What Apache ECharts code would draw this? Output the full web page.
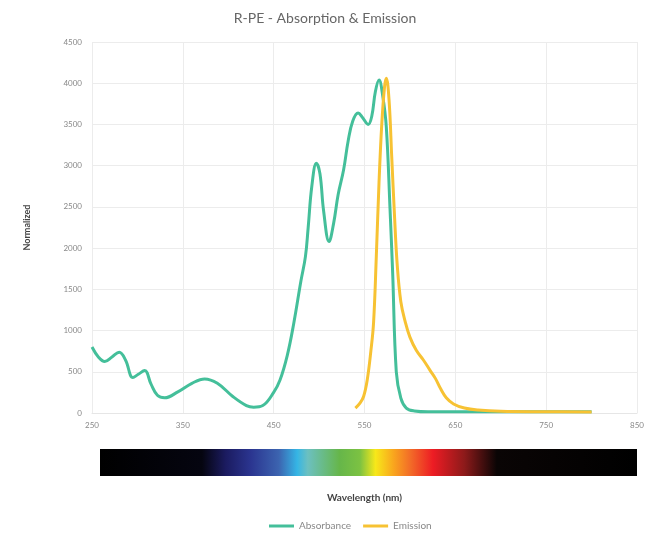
<!DOCTYPE html>
<html>
<head>
<meta charset="utf-8">
<script src="https://cdn.jsdelivr.net/npm/echarts@6/dist/echarts.min.js"></script>
<style>html,body{margin:0;padding:0;background:#fff}#c{width:650px;height:540px}</style>
</head>
<body>
<div id="c"></div>
<script>
// Wavelength (nm) / normalized value pairs
const absorbanceWl = [250,257,264,272,280,287,295,301,308,315,322,330,345,360,374,388,405,420,428,438,450,457,465,472,480,485,488,492,497,501,505,511,516,521,527,532,537,543,548,554,558,562,566,570,574,578,581,585,590,596,605,620,650,700,750,800];
const absorbanceVal = [800,680,625,680,737,640,430,470,514,350,215,185,260,360,413,360,200,90,70,90,250,400,700,1080,1600,1900,2250,2750,3030,2900,2450,2080,2300,2650,2950,3300,3540,3640,3580,3500,3600,3900,4040,3850,3470,2500,1700,500,180,60,25,15,15,15,15,15];
const emissionWl = [540,545,549,553,557,560,563,566,569,572,574,577,580,583,586,590,595,600,607,615,622,628,634,640,648,660,675,700,750,800];
const emissionVal = [60,120,200,400,750,1100,1900,2800,3500,3950,4060,3800,3100,2400,1800,1350,1100,920,760,640,520,420,290,185,110,60,35,20,15,12];
const xTicks = {min:250, max:850, interval:100};
const yTicks = {min:0, max:4500, interval:500};
// spectrum band: [fraction, color]
const spectrumStops = [[0,'#000000'],[0.19,'#050510'],[0.234,'#1b1b60'],[0.281,'#2b3590'],[0.333,'#3c64b0'],[0.367,'#35b5e5'],[0.387,'#6cc0c0'],[0.446,'#66b64a'],[0.484,'#7cc242'],[0.513,'#f7e81a'],[0.547,'#f9a51e'],[0.579,'#f26a28'],[0.62,'#ed1c24'],[0.679,'#8c1a1a'],[0.739,'#0a0505'],[1,'#000000']];

const pairs = (xs, ys) => xs.map((x, i) => [x, ys[i]]);
const green = '#44bf9a', yellow = '#f7c233';
const font = 'Lato, "Open Sans", sans-serif';

const chart = echarts.init(document.getElementById('c'));
chart.setOption({
  animation: false,
  title: {text: 'R-PE - Absorption & Emission', left: 'center', top: 6,
    textStyle: {fontSize: 14, fontWeight: 'normal', color: '#666', fontFamily: font}},
  grid: {left: 92, right: 13, top: 42, bottom: 127},
  legend: {bottom: 4, left: 264, icon: 'rect', itemWidth: 25, itemHeight: 3, itemGap: 12,
    textStyle: {color: '#888', fontSize: 10, fontFamily: font},
    data: ['Absorbance', 'Emission']},
  xAxis: {type: 'value', min: xTicks.min, max: xTicks.max, interval: xTicks.interval,
    name: 'Wavelength (nm)', nameLocation: 'middle', nameGap: 80,
    nameTextStyle: {fontSize: 10, fontWeight: 'bold', color: '#444', fontFamily: font},
    axisLine: {lineStyle: {color: '#e6e6e6'}}, axisTick: {show: false},
    axisLabel: {fontSize: 8, color: '#888', margin: 8, fontFamily: font, formatter: v => String(v)},
    splitLine: {show: true, lineStyle: {color: '#ececec'}}},
  yAxis: {type: 'value', min: yTicks.min, max: yTicks.max, interval: yTicks.interval,
    name: 'Normalized', nameLocation: 'middle', nameGap: 60,
    nameTextStyle: {fontSize: 9, fontWeight: 'bold', color: '#444', fontFamily: font},
    axisLine: {show: false}, axisTick: {show: false},
    axisLabel: {fontSize: 8, color: '#888', margin: 10, fontFamily: font, formatter: v => String(v)},
    splitLine: {lineStyle: {color: '#ececec'}}},
  graphic: [{type: 'rect', left: 100, top: 449, shape: {width: 537, height: 27},
    style: {fill: new echarts.graphic.LinearGradient(0, 0, 1, 0,
      spectrumStops.map(s => ({offset: s[0], color: s[1]})))}}],
  series: [
    {name: 'Absorbance', type: 'line', data: pairs(absorbanceWl, absorbanceVal), smooth: 0.4,
      showSymbol: false, lineStyle: {width: 3, color: green}, itemStyle: {color: green}},
    {name: 'Emission', type: 'line', data: pairs(emissionWl, emissionVal), smooth: 0.4,
      showSymbol: false, lineStyle: {width: 3, color: yellow}, itemStyle: {color: yellow}}
  ]
});
</script>
</body>
</html>
